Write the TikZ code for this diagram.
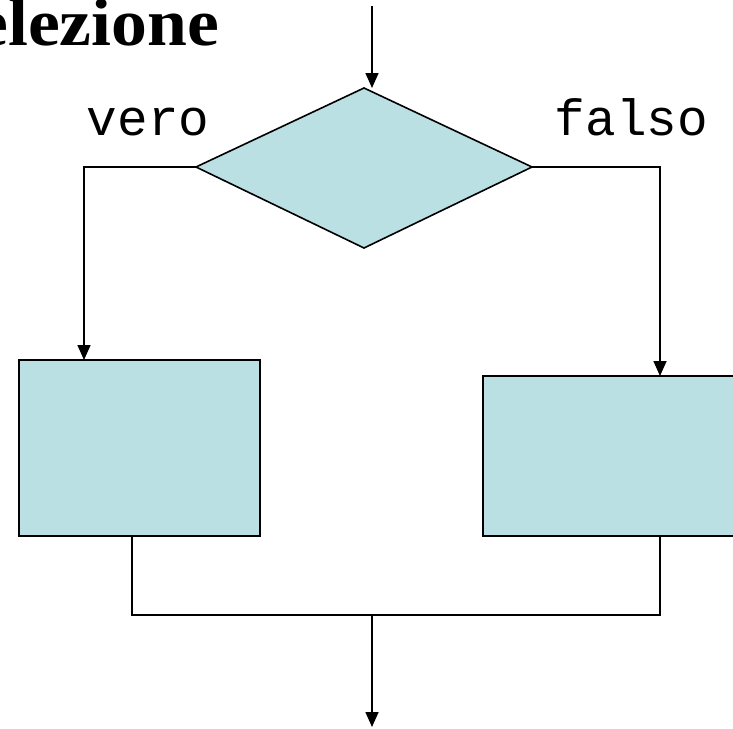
\documentclass[tikz,border=0pt]{standalone}
\usepackage{fontspec}
\setmainfont{Liberation Serif}
\newfontfamily\monofont{Liberation Mono}
\usetikzlibrary{arrows.meta,shapes.geometric}
\definecolor{boxfill}{HTML}{BBE0E3}
\begin{document}
\begin{tikzpicture}[x=1pt,y=-1pt,
  line width=1.6pt,
  flow/.style={-{Triangle[length=15pt,width=13pt]}},
  blockbox/.style={draw=black,fill=boxfill},
  lbl/.style={font=\monofont\fontsize{51}{51}\selectfont,inner sep=0pt,anchor=base west}]
\useasboundingbox (0,0) rectangle (733,728);
\clip (0,0) rectangle (733,728);
% title, partly outside the frame
\node[font=\bfseries\fontsize{67}{67}\selectfont,inner sep=0pt,anchor=base east,xscale=1.07] (title) at (220,45) {Selezione};
% decision
\path[blockbox] (364,88) coordinate (dtop) -- (532,167) coordinate (dright)
  -- (364,248) coordinate (dbot) -- (196,167) coordinate (dleft) -- cycle;
\coordinate (start) at (372,6);
\coordinate (dentry) at (372,88);
\draw[flow] (start) -- (dentry);
\node[lbl] (vero) at (86,135) {vero};
\node[lbl] (falso) at (554,135) {falso};
% branch blocks
\path[blockbox] (19,360) coordinate (ltl) rectangle (260,536) coordinate (lbr);
\path[blockbox] (483,376) coordinate (rtl) rectangle (745,536) coordinate (rbr);
\coordinate (lin) at (84,360);
\coordinate (rin) at (660,376);
\coordinate (lout) at (132,536);
\coordinate (rout) at (660,536);
\coordinate (joinl) at (132,615);
\coordinate (joinr) at (660,615);
\coordinate (joinm) at (372,615);
\coordinate (exit) at (372,727);
\draw[flow] (dleft) -| (lin);
\draw[flow] (dright) -| (rin);
\draw (lout) -- (joinl) -- (joinr) -- (rout);
\draw[flow] (joinm) -- (exit);
\end{tikzpicture}
\end{document}
